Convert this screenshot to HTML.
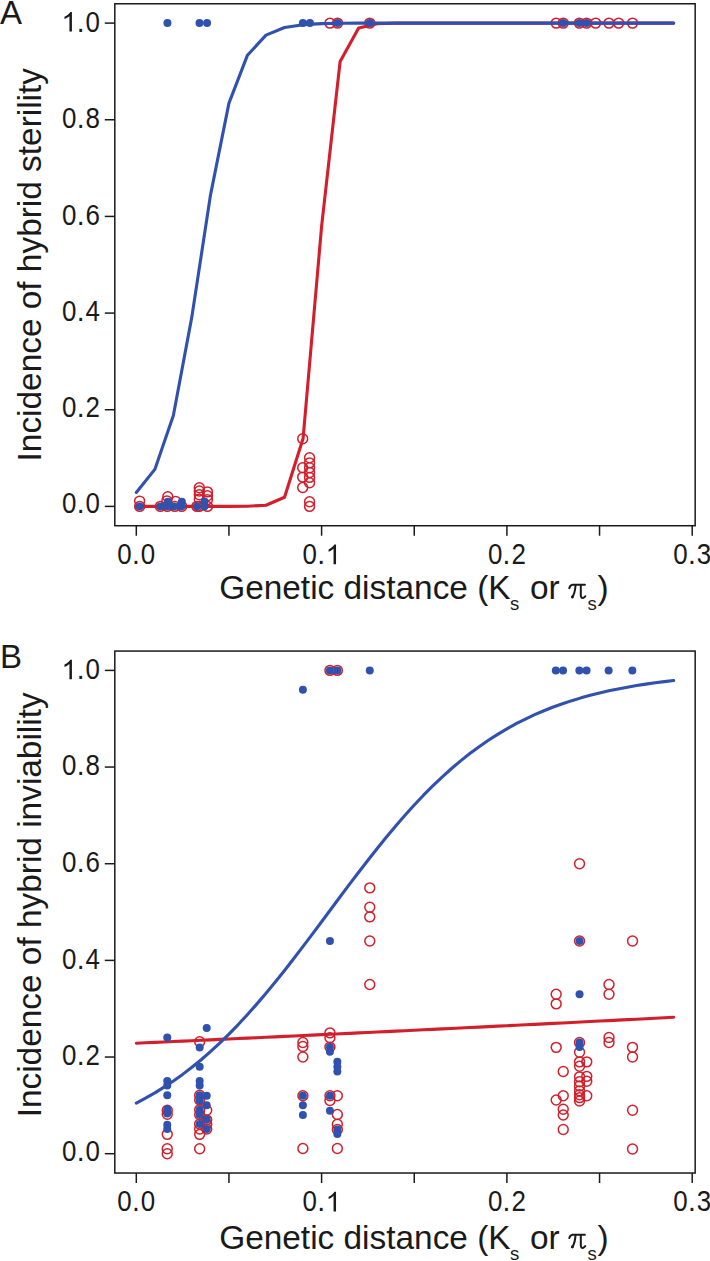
<!DOCTYPE html>
<html><head><meta charset="utf-8"><style>
html,body{margin:0;padding:0;background:#fff;}
svg{display:block;}
text{font-family:"Liberation Sans",sans-serif;fill:#1a1a1a;}
.tl{font-size:28.2px;}
.tt{font-size:33.4px;}
.pl{font-size:33px;}
.sub{font-size:18.5px;}
.pi{font-family:"Liberation Serif",serif;font-style:italic;font-size:36.5px;}
</style></head><body>
<svg width="710" height="1261" viewBox="0 0 710 1261">
<rect width="710" height="1261" fill="#fff"/>
<rect x="114.81" y="3.77" width="580.36" height="521.96" fill="none" stroke="#1a1a1a" stroke-width="1.5"/>
<line x1="104.81" y1="506.40" x2="114.81" y2="506.40" stroke="#1a1a1a" stroke-width="1.5"/>
<text transform="translate(69.25,512.80) scale(0.92,1.07)" class="tl" text-anchor="middle">0</text>
<text transform="translate(80.61,512.80) scale(1.0,1.07)" class="tl" text-anchor="middle">.</text>
<text transform="translate(92.77,512.80) scale(0.92,1.07)" class="tl" text-anchor="middle">0</text>
<line x1="104.81" y1="409.74" x2="114.81" y2="409.74" stroke="#1a1a1a" stroke-width="1.5"/>
<text transform="translate(69.25,417.14) scale(0.92,1.07)" class="tl" text-anchor="middle">0</text>
<text transform="translate(80.61,417.14) scale(1.0,1.07)" class="tl" text-anchor="middle">.</text>
<text transform="translate(92.77,417.14) scale(0.92,1.07)" class="tl" text-anchor="middle">2</text>
<line x1="104.81" y1="313.08" x2="114.81" y2="313.08" stroke="#1a1a1a" stroke-width="1.5"/>
<text transform="translate(69.25,321.48) scale(0.92,1.07)" class="tl" text-anchor="middle">0</text>
<text transform="translate(80.61,321.48) scale(1.0,1.07)" class="tl" text-anchor="middle">.</text>
<text transform="translate(92.77,321.48) scale(0.92,1.07)" class="tl" text-anchor="middle">4</text>
<line x1="104.81" y1="216.42" x2="114.81" y2="216.42" stroke="#1a1a1a" stroke-width="1.5"/>
<text transform="translate(69.25,224.82) scale(0.92,1.07)" class="tl" text-anchor="middle">0</text>
<text transform="translate(80.61,224.82) scale(1.0,1.07)" class="tl" text-anchor="middle">.</text>
<text transform="translate(92.77,224.82) scale(0.92,1.07)" class="tl" text-anchor="middle">6</text>
<line x1="104.81" y1="119.76" x2="114.81" y2="119.76" stroke="#1a1a1a" stroke-width="1.5"/>
<text transform="translate(69.25,128.16) scale(0.92,1.07)" class="tl" text-anchor="middle">0</text>
<text transform="translate(80.61,128.16) scale(1.0,1.07)" class="tl" text-anchor="middle">.</text>
<text transform="translate(92.77,128.16) scale(0.92,1.07)" class="tl" text-anchor="middle">8</text>
<line x1="104.81" y1="23.10" x2="114.81" y2="23.10" stroke="#1a1a1a" stroke-width="1.5"/>
<path transform="translate(61.41,31.50) scale(0.013770,-0.013356)" d="M763,0L583,0L583,1147Q518,1085 412.5,1023Q307,961 223,930L223,1104Q374,1175 485,1273.5Q596,1372 648,1466L763,1466Z" fill="#1a1a1a"/>
<text transform="translate(80.61,31.50) scale(1.0,1.07)" class="tl" text-anchor="middle">.</text>
<text transform="translate(92.77,31.50) scale(0.92,1.07)" class="tl" text-anchor="middle">0</text>
<line x1="136.30" y1="525.73" x2="136.30" y2="535.73" stroke="#1a1a1a" stroke-width="1.5"/>
<text transform="translate(124.54,564.13) scale(0.92,1.07)" class="tl" text-anchor="middle">0</text>
<text transform="translate(135.90,564.13) scale(1.0,1.07)" class="tl" text-anchor="middle">.</text>
<text transform="translate(148.06,564.13) scale(0.92,1.07)" class="tl" text-anchor="middle">0</text>
<line x1="228.95" y1="525.73" x2="228.95" y2="535.73" stroke="#1a1a1a" stroke-width="1.5"/>
<line x1="321.60" y1="525.73" x2="321.60" y2="535.73" stroke="#1a1a1a" stroke-width="1.5"/>
<text transform="translate(309.84,564.13) scale(0.92,1.07)" class="tl" text-anchor="middle">0</text>
<text transform="translate(321.20,564.13) scale(1.0,1.07)" class="tl" text-anchor="middle">.</text>
<path transform="translate(325.52,564.13) scale(0.013770,-0.013356)" d="M763,0L583,0L583,1147Q518,1085 412.5,1023Q307,961 223,930L223,1104Q374,1175 485,1273.5Q596,1372 648,1466L763,1466Z" fill="#1a1a1a"/>
<line x1="414.25" y1="525.73" x2="414.25" y2="535.73" stroke="#1a1a1a" stroke-width="1.5"/>
<line x1="506.90" y1="525.73" x2="506.90" y2="535.73" stroke="#1a1a1a" stroke-width="1.5"/>
<text transform="translate(495.14,564.13) scale(0.92,1.07)" class="tl" text-anchor="middle">0</text>
<text transform="translate(506.50,564.13) scale(1.0,1.07)" class="tl" text-anchor="middle">.</text>
<text transform="translate(518.66,564.13) scale(0.92,1.07)" class="tl" text-anchor="middle">2</text>
<line x1="599.55" y1="525.73" x2="599.55" y2="535.73" stroke="#1a1a1a" stroke-width="1.5"/>
<line x1="692.20" y1="525.73" x2="692.20" y2="535.73" stroke="#1a1a1a" stroke-width="1.5"/>
<text transform="translate(680.44,564.13) scale(0.92,1.07)" class="tl" text-anchor="middle">0</text>
<text transform="translate(691.80,564.13) scale(1.0,1.07)" class="tl" text-anchor="middle">.</text>
<text transform="translate(703.96,564.13) scale(0.92,1.07)" class="tl" text-anchor="middle">3</text>
<text x="219.20" y="598.93" class="tt">Genetic distance (K<tspan class="sub" dy="11.2" dx="-0.5">s</tspan><tspan dy="-11.2" dx="1.4"> or </tspan><tspan class="pi" dx="0.3" fill="none">&#960;</tspan><tspan class="sub" dy="11.2" dx="0">s</tspan><tspan dy="-11.2" dx="0.6">)</tspan></text>
<g transform="translate(0,0.00)" fill="none" stroke="#1a1a1a" stroke-width="2.0" stroke-linecap="round"><path d="M569.3,588.2 Q570,585.1 572.6,584.8 L584.9,584.8"/><path d="M575.5,585.2 Q575.2,592.5 572.3,597.2"/><path d="M580.8,585.2 L580.8,595.3 Q581,598.5 583.3,597.9 Q584.5,597.5 585.3,596.2"/></g>
<circle cx="572.4" cy="597.00" r="1.45" fill="#1a1a1a"/>
<text transform="translate(40.5,264.75) rotate(-90)" class="tt" text-anchor="middle">Incidence of hybrid sterility</text>
<circle cx="329.94" cy="23.10" r="4.95" fill="none" stroke="#d21f2b" stroke-width="1.5"/>
<circle cx="337.54" cy="23.10" r="4.95" fill="none" stroke="#d21f2b" stroke-width="1.5"/>
<circle cx="369.78" cy="23.10" r="4.95" fill="none" stroke="#d21f2b" stroke-width="1.5"/>
<circle cx="556.19" cy="23.10" r="4.95" fill="none" stroke="#d21f2b" stroke-width="1.5"/>
<circle cx="563.23" cy="23.10" r="4.95" fill="none" stroke="#d21f2b" stroke-width="1.5"/>
<circle cx="579.35" cy="23.10" r="4.95" fill="none" stroke="#d21f2b" stroke-width="1.5"/>
<circle cx="586.58" cy="23.10" r="4.95" fill="none" stroke="#d21f2b" stroke-width="1.5"/>
<circle cx="595.66" cy="23.10" r="4.95" fill="none" stroke="#d21f2b" stroke-width="1.5"/>
<circle cx="609.00" cy="23.10" r="4.95" fill="none" stroke="#d21f2b" stroke-width="1.5"/>
<circle cx="618.64" cy="23.10" r="4.95" fill="none" stroke="#d21f2b" stroke-width="1.5"/>
<circle cx="632.53" cy="23.10" r="4.95" fill="none" stroke="#d21f2b" stroke-width="1.5"/>
<circle cx="139.64" cy="506.40" r="4.95" fill="none" stroke="#d21f2b" stroke-width="1.5"/>
<circle cx="139.64" cy="501.08" r="4.95" fill="none" stroke="#d21f2b" stroke-width="1.5"/>
<circle cx="160.39" cy="506.40" r="4.95" fill="none" stroke="#d21f2b" stroke-width="1.5"/>
<circle cx="167.25" cy="506.40" r="4.95" fill="none" stroke="#d21f2b" stroke-width="1.5"/>
<circle cx="167.80" cy="496.73" r="4.95" fill="none" stroke="#d21f2b" stroke-width="1.5"/>
<circle cx="166.87" cy="500.84" r="4.95" fill="none" stroke="#d21f2b" stroke-width="1.5"/>
<circle cx="174.84" cy="506.40" r="4.95" fill="none" stroke="#d21f2b" stroke-width="1.5"/>
<circle cx="175.58" cy="501.33" r="4.95" fill="none" stroke="#d21f2b" stroke-width="1.5"/>
<circle cx="181.70" cy="506.40" r="4.95" fill="none" stroke="#d21f2b" stroke-width="1.5"/>
<circle cx="196.89" cy="506.40" r="4.95" fill="none" stroke="#d21f2b" stroke-width="1.5"/>
<circle cx="199.30" cy="506.40" r="4.95" fill="none" stroke="#d21f2b" stroke-width="1.5"/>
<circle cx="199.30" cy="487.79" r="4.95" fill="none" stroke="#d21f2b" stroke-width="1.5"/>
<circle cx="199.30" cy="490.93" r="4.95" fill="none" stroke="#d21f2b" stroke-width="1.5"/>
<circle cx="199.30" cy="494.80" r="4.95" fill="none" stroke="#d21f2b" stroke-width="1.5"/>
<circle cx="199.30" cy="499.15" r="4.95" fill="none" stroke="#d21f2b" stroke-width="1.5"/>
<circle cx="207.46" cy="506.40" r="4.95" fill="none" stroke="#d21f2b" stroke-width="1.5"/>
<circle cx="207.46" cy="491.90" r="4.95" fill="none" stroke="#d21f2b" stroke-width="1.5"/>
<circle cx="207.46" cy="495.77" r="4.95" fill="none" stroke="#d21f2b" stroke-width="1.5"/>
<circle cx="207.46" cy="499.63" r="4.95" fill="none" stroke="#d21f2b" stroke-width="1.5"/>
<circle cx="302.70" cy="438.74" r="4.95" fill="none" stroke="#d21f2b" stroke-width="1.5"/>
<circle cx="302.70" cy="467.74" r="4.95" fill="none" stroke="#d21f2b" stroke-width="1.5"/>
<circle cx="302.70" cy="477.11" r="4.95" fill="none" stroke="#d21f2b" stroke-width="1.5"/>
<circle cx="302.70" cy="487.55" r="4.95" fill="none" stroke="#d21f2b" stroke-width="1.5"/>
<circle cx="309.56" cy="457.73" r="4.95" fill="none" stroke="#d21f2b" stroke-width="1.5"/>
<circle cx="309.56" cy="462.90" r="4.95" fill="none" stroke="#d21f2b" stroke-width="1.5"/>
<circle cx="309.56" cy="467.74" r="4.95" fill="none" stroke="#d21f2b" stroke-width="1.5"/>
<circle cx="309.56" cy="472.57" r="4.95" fill="none" stroke="#d21f2b" stroke-width="1.5"/>
<circle cx="309.56" cy="477.40" r="4.95" fill="none" stroke="#d21f2b" stroke-width="1.5"/>
<circle cx="309.56" cy="482.72" r="4.95" fill="none" stroke="#d21f2b" stroke-width="1.5"/>
<circle cx="309.56" cy="501.71" r="4.95" fill="none" stroke="#d21f2b" stroke-width="1.5"/>
<circle cx="309.56" cy="506.40" r="4.95" fill="none" stroke="#d21f2b" stroke-width="1.5"/>
<polyline points="136.30,506.40 154.83,506.40 173.36,506.40 191.89,506.40 210.42,506.40 228.95,506.38 247.48,506.27 266.01,505.29 284.54,497.22 303.07,438.55 321.60,226.41 340.13,61.42 358.66,27.99 377.19,23.68 395.72,23.17 414.25,23.11 432.78,23.10 451.31,23.10 469.84,23.10 488.37,23.10 506.90,23.10 525.43,23.10 543.96,23.10 562.49,23.10 581.02,23.10 599.55,23.10 618.08,23.10 636.61,23.10 655.14,23.10 673.67,23.10" fill="none" stroke="#d21f2b" stroke-width="3.1" stroke-linejoin="round" stroke-linecap="round"/>
<circle cx="167.43" cy="23.10" r="4.0" fill="#3052ae"/>
<circle cx="199.49" cy="23.10" r="4.0" fill="#3052ae"/>
<circle cx="207.08" cy="23.10" r="4.0" fill="#3052ae"/>
<circle cx="302.88" cy="23.10" r="4.0" fill="#3052ae"/>
<circle cx="309.93" cy="23.10" r="4.0" fill="#3052ae"/>
<circle cx="337.54" cy="23.10" r="4.0" fill="#3052ae"/>
<circle cx="369.78" cy="23.10" r="4.0" fill="#3052ae"/>
<circle cx="563.23" cy="23.10" r="4.0" fill="#3052ae"/>
<circle cx="579.35" cy="23.10" r="4.0" fill="#3052ae"/>
<circle cx="586.58" cy="23.10" r="4.0" fill="#3052ae"/>
<circle cx="139.64" cy="506.40" r="4.0" fill="#3052ae"/>
<circle cx="160.39" cy="506.40" r="4.0" fill="#3052ae"/>
<circle cx="167.25" cy="506.40" r="4.0" fill="#3052ae"/>
<circle cx="167.80" cy="501.81" r="4.0" fill="#3052ae"/>
<circle cx="174.10" cy="506.40" r="4.0" fill="#3052ae"/>
<circle cx="181.33" cy="506.40" r="4.0" fill="#3052ae"/>
<circle cx="181.88" cy="501.81" r="4.0" fill="#3052ae"/>
<circle cx="196.89" cy="506.40" r="4.0" fill="#3052ae"/>
<circle cx="204.49" cy="501.52" r="4.0" fill="#3052ae"/>
<circle cx="204.49" cy="506.40" r="4.0" fill="#3052ae"/>
<polyline points="136.30,492.45 154.83,469.38 173.36,415.52 191.89,316.63 210.42,195.42 228.95,103.14 247.48,55.18 266.01,35.10 284.54,27.47 303.07,24.67 321.60,23.67 340.13,23.30 358.66,23.17 377.19,23.13 395.72,23.11 414.25,23.10 432.78,23.10 451.31,23.10 469.84,23.10 488.37,23.10 506.90,23.10 525.43,23.10 543.96,23.10 562.49,23.10 581.02,23.10 599.55,23.10 618.08,23.10 636.61,23.10 655.14,23.10 673.67,23.10" fill="none" stroke="#3052ae" stroke-width="3.1" stroke-linejoin="round" stroke-linecap="round"/>
<text x="0" y="23.60" class="pl">A</text>
<rect x="114.81" y="651.07" width="580.36" height="521.96" fill="none" stroke="#1a1a1a" stroke-width="1.5"/>
<line x1="104.81" y1="1153.70" x2="114.81" y2="1153.70" stroke="#1a1a1a" stroke-width="1.5"/>
<text transform="translate(69.25,1160.60) scale(0.92,1.07)" class="tl" text-anchor="middle">0</text>
<text transform="translate(80.61,1160.60) scale(1.0,1.07)" class="tl" text-anchor="middle">.</text>
<text transform="translate(92.77,1160.60) scale(0.92,1.07)" class="tl" text-anchor="middle">0</text>
<line x1="104.81" y1="1057.04" x2="114.81" y2="1057.04" stroke="#1a1a1a" stroke-width="1.5"/>
<text transform="translate(69.25,1064.94) scale(0.92,1.07)" class="tl" text-anchor="middle">0</text>
<text transform="translate(80.61,1064.94) scale(1.0,1.07)" class="tl" text-anchor="middle">.</text>
<text transform="translate(92.77,1064.94) scale(0.92,1.07)" class="tl" text-anchor="middle">2</text>
<line x1="104.81" y1="960.38" x2="114.81" y2="960.38" stroke="#1a1a1a" stroke-width="1.5"/>
<text transform="translate(69.25,968.78) scale(0.92,1.07)" class="tl" text-anchor="middle">0</text>
<text transform="translate(80.61,968.78) scale(1.0,1.07)" class="tl" text-anchor="middle">.</text>
<text transform="translate(92.77,968.78) scale(0.92,1.07)" class="tl" text-anchor="middle">4</text>
<line x1="104.81" y1="863.72" x2="114.81" y2="863.72" stroke="#1a1a1a" stroke-width="1.5"/>
<text transform="translate(69.25,872.12) scale(0.92,1.07)" class="tl" text-anchor="middle">0</text>
<text transform="translate(80.61,872.12) scale(1.0,1.07)" class="tl" text-anchor="middle">.</text>
<text transform="translate(92.77,872.12) scale(0.92,1.07)" class="tl" text-anchor="middle">6</text>
<line x1="104.81" y1="767.06" x2="114.81" y2="767.06" stroke="#1a1a1a" stroke-width="1.5"/>
<text transform="translate(69.25,775.46) scale(0.92,1.07)" class="tl" text-anchor="middle">0</text>
<text transform="translate(80.61,775.46) scale(1.0,1.07)" class="tl" text-anchor="middle">.</text>
<text transform="translate(92.77,775.46) scale(0.92,1.07)" class="tl" text-anchor="middle">8</text>
<line x1="104.81" y1="670.40" x2="114.81" y2="670.40" stroke="#1a1a1a" stroke-width="1.5"/>
<path transform="translate(61.41,679.30) scale(0.013770,-0.013356)" d="M763,0L583,0L583,1147Q518,1085 412.5,1023Q307,961 223,930L223,1104Q374,1175 485,1273.5Q596,1372 648,1466L763,1466Z" fill="#1a1a1a"/>
<text transform="translate(80.61,679.30) scale(1.0,1.07)" class="tl" text-anchor="middle">.</text>
<text transform="translate(92.77,679.30) scale(0.92,1.07)" class="tl" text-anchor="middle">0</text>
<line x1="136.30" y1="1173.03" x2="136.30" y2="1183.03" stroke="#1a1a1a" stroke-width="1.5"/>
<text transform="translate(124.54,1211.43) scale(0.92,1.07)" class="tl" text-anchor="middle">0</text>
<text transform="translate(135.90,1211.43) scale(1.0,1.07)" class="tl" text-anchor="middle">.</text>
<text transform="translate(148.06,1211.43) scale(0.92,1.07)" class="tl" text-anchor="middle">0</text>
<line x1="228.95" y1="1173.03" x2="228.95" y2="1183.03" stroke="#1a1a1a" stroke-width="1.5"/>
<line x1="321.60" y1="1173.03" x2="321.60" y2="1183.03" stroke="#1a1a1a" stroke-width="1.5"/>
<text transform="translate(309.84,1211.43) scale(0.92,1.07)" class="tl" text-anchor="middle">0</text>
<text transform="translate(321.20,1211.43) scale(1.0,1.07)" class="tl" text-anchor="middle">.</text>
<path transform="translate(325.52,1211.43) scale(0.013770,-0.013356)" d="M763,0L583,0L583,1147Q518,1085 412.5,1023Q307,961 223,930L223,1104Q374,1175 485,1273.5Q596,1372 648,1466L763,1466Z" fill="#1a1a1a"/>
<line x1="414.25" y1="1173.03" x2="414.25" y2="1183.03" stroke="#1a1a1a" stroke-width="1.5"/>
<line x1="506.90" y1="1173.03" x2="506.90" y2="1183.03" stroke="#1a1a1a" stroke-width="1.5"/>
<text transform="translate(495.14,1211.43) scale(0.92,1.07)" class="tl" text-anchor="middle">0</text>
<text transform="translate(506.50,1211.43) scale(1.0,1.07)" class="tl" text-anchor="middle">.</text>
<text transform="translate(518.66,1211.43) scale(0.92,1.07)" class="tl" text-anchor="middle">2</text>
<line x1="599.55" y1="1173.03" x2="599.55" y2="1183.03" stroke="#1a1a1a" stroke-width="1.5"/>
<line x1="692.20" y1="1173.03" x2="692.20" y2="1183.03" stroke="#1a1a1a" stroke-width="1.5"/>
<text transform="translate(680.44,1211.43) scale(0.92,1.07)" class="tl" text-anchor="middle">0</text>
<text transform="translate(691.80,1211.43) scale(1.0,1.07)" class="tl" text-anchor="middle">.</text>
<text transform="translate(703.96,1211.43) scale(0.92,1.07)" class="tl" text-anchor="middle">3</text>
<text x="219.20" y="1248.83" class="tt">Genetic distance (K<tspan class="sub" dy="11.2" dx="-0.5">s</tspan><tspan dy="-11.2" dx="1.4"> or </tspan><tspan class="pi" dx="0.3" fill="none">&#960;</tspan><tspan class="sub" dy="11.2" dx="0">s</tspan><tspan dy="-11.2" dx="0.6">)</tspan></text>
<g transform="translate(0,649.90)" fill="none" stroke="#1a1a1a" stroke-width="2.0" stroke-linecap="round"><path d="M569.3,588.2 Q570,585.1 572.6,584.8 L584.9,584.8"/><path d="M575.5,585.2 Q575.2,592.5 572.3,597.2"/><path d="M580.8,585.2 L580.8,595.3 Q581,598.5 583.3,597.9 Q584.5,597.5 585.3,596.2"/></g>
<circle cx="572.4" cy="1246.90" r="1.45" fill="#1a1a1a"/>
<text transform="translate(40.5,904.85) rotate(-90)" class="tt" text-anchor="middle">Incidence of hybrid inviability</text>
<circle cx="167.25" cy="1110.20" r="4.95" fill="none" stroke="#d21f2b" stroke-width="1.5"/>
<circle cx="167.25" cy="1114.31" r="4.95" fill="none" stroke="#d21f2b" stroke-width="1.5"/>
<circle cx="167.25" cy="1134.37" r="4.95" fill="none" stroke="#d21f2b" stroke-width="1.5"/>
<circle cx="167.25" cy="1148.72" r="4.95" fill="none" stroke="#d21f2b" stroke-width="1.5"/>
<circle cx="167.25" cy="1153.70" r="4.95" fill="none" stroke="#d21f2b" stroke-width="1.5"/>
<circle cx="199.67" cy="1041.82" r="4.95" fill="none" stroke="#d21f2b" stroke-width="1.5"/>
<circle cx="199.67" cy="1095.22" r="4.95" fill="none" stroke="#d21f2b" stroke-width="1.5"/>
<circle cx="199.67" cy="1100.05" r="4.95" fill="none" stroke="#d21f2b" stroke-width="1.5"/>
<circle cx="199.67" cy="1109.72" r="4.95" fill="none" stroke="#d21f2b" stroke-width="1.5"/>
<circle cx="199.67" cy="1114.79" r="4.95" fill="none" stroke="#d21f2b" stroke-width="1.5"/>
<circle cx="199.67" cy="1124.03" r="4.95" fill="none" stroke="#d21f2b" stroke-width="1.5"/>
<circle cx="199.67" cy="1129.05" r="4.95" fill="none" stroke="#d21f2b" stroke-width="1.5"/>
<circle cx="199.67" cy="1134.37" r="4.95" fill="none" stroke="#d21f2b" stroke-width="1.5"/>
<circle cx="199.67" cy="1148.72" r="4.95" fill="none" stroke="#d21f2b" stroke-width="1.5"/>
<circle cx="206.71" cy="1110.20" r="4.95" fill="none" stroke="#d21f2b" stroke-width="1.5"/>
<circle cx="206.71" cy="1119.87" r="4.95" fill="none" stroke="#d21f2b" stroke-width="1.5"/>
<circle cx="206.71" cy="1124.22" r="4.95" fill="none" stroke="#d21f2b" stroke-width="1.5"/>
<circle cx="206.71" cy="1129.05" r="4.95" fill="none" stroke="#d21f2b" stroke-width="1.5"/>
<circle cx="302.88" cy="1042.54" r="4.95" fill="none" stroke="#d21f2b" stroke-width="1.5"/>
<circle cx="302.88" cy="1046.41" r="4.95" fill="none" stroke="#d21f2b" stroke-width="1.5"/>
<circle cx="302.88" cy="1057.04" r="4.95" fill="none" stroke="#d21f2b" stroke-width="1.5"/>
<circle cx="302.88" cy="1095.70" r="4.95" fill="none" stroke="#d21f2b" stroke-width="1.5"/>
<circle cx="302.88" cy="1148.48" r="4.95" fill="none" stroke="#d21f2b" stroke-width="1.5"/>
<circle cx="329.94" cy="1032.88" r="4.95" fill="none" stroke="#d21f2b" stroke-width="1.5"/>
<circle cx="329.94" cy="1037.71" r="4.95" fill="none" stroke="#d21f2b" stroke-width="1.5"/>
<circle cx="329.94" cy="1047.08" r="4.95" fill="none" stroke="#d21f2b" stroke-width="1.5"/>
<circle cx="329.94" cy="1095.70" r="4.95" fill="none" stroke="#d21f2b" stroke-width="1.5"/>
<circle cx="329.94" cy="1100.54" r="4.95" fill="none" stroke="#d21f2b" stroke-width="1.5"/>
<circle cx="329.94" cy="670.40" r="4.95" fill="none" stroke="#d21f2b" stroke-width="1.5"/>
<circle cx="337.35" cy="1095.70" r="4.95" fill="none" stroke="#d21f2b" stroke-width="1.5"/>
<circle cx="337.35" cy="1114.55" r="4.95" fill="none" stroke="#d21f2b" stroke-width="1.5"/>
<circle cx="337.35" cy="1124.22" r="4.95" fill="none" stroke="#d21f2b" stroke-width="1.5"/>
<circle cx="337.35" cy="1129.53" r="4.95" fill="none" stroke="#d21f2b" stroke-width="1.5"/>
<circle cx="337.35" cy="1148.48" r="4.95" fill="none" stroke="#d21f2b" stroke-width="1.5"/>
<circle cx="337.35" cy="670.40" r="4.95" fill="none" stroke="#d21f2b" stroke-width="1.5"/>
<circle cx="369.78" cy="887.88" r="4.95" fill="none" stroke="#d21f2b" stroke-width="1.5"/>
<circle cx="369.78" cy="907.22" r="4.95" fill="none" stroke="#d21f2b" stroke-width="1.5"/>
<circle cx="369.78" cy="916.88" r="4.95" fill="none" stroke="#d21f2b" stroke-width="1.5"/>
<circle cx="369.78" cy="941.05" r="4.95" fill="none" stroke="#d21f2b" stroke-width="1.5"/>
<circle cx="369.78" cy="984.54" r="4.95" fill="none" stroke="#d21f2b" stroke-width="1.5"/>
<circle cx="556.19" cy="994.21" r="4.95" fill="none" stroke="#d21f2b" stroke-width="1.5"/>
<circle cx="556.19" cy="1003.88" r="4.95" fill="none" stroke="#d21f2b" stroke-width="1.5"/>
<circle cx="556.19" cy="1047.37" r="4.95" fill="none" stroke="#d21f2b" stroke-width="1.5"/>
<circle cx="556.19" cy="1100.05" r="4.95" fill="none" stroke="#d21f2b" stroke-width="1.5"/>
<circle cx="563.23" cy="1071.54" r="4.95" fill="none" stroke="#d21f2b" stroke-width="1.5"/>
<circle cx="563.23" cy="1095.70" r="4.95" fill="none" stroke="#d21f2b" stroke-width="1.5"/>
<circle cx="563.23" cy="1109.24" r="4.95" fill="none" stroke="#d21f2b" stroke-width="1.5"/>
<circle cx="563.23" cy="1115.04" r="4.95" fill="none" stroke="#d21f2b" stroke-width="1.5"/>
<circle cx="563.23" cy="1129.53" r="4.95" fill="none" stroke="#d21f2b" stroke-width="1.5"/>
<circle cx="579.54" cy="863.72" r="4.95" fill="none" stroke="#d21f2b" stroke-width="1.5"/>
<circle cx="579.54" cy="941.05" r="4.95" fill="none" stroke="#d21f2b" stroke-width="1.5"/>
<circle cx="579.54" cy="1042.54" r="4.95" fill="none" stroke="#d21f2b" stroke-width="1.5"/>
<circle cx="579.54" cy="1052.21" r="4.95" fill="none" stroke="#d21f2b" stroke-width="1.5"/>
<circle cx="579.54" cy="1061.87" r="4.95" fill="none" stroke="#d21f2b" stroke-width="1.5"/>
<circle cx="579.54" cy="1066.22" r="4.95" fill="none" stroke="#d21f2b" stroke-width="1.5"/>
<circle cx="579.54" cy="1076.86" r="4.95" fill="none" stroke="#d21f2b" stroke-width="1.5"/>
<circle cx="579.54" cy="1081.69" r="4.95" fill="none" stroke="#d21f2b" stroke-width="1.5"/>
<circle cx="579.54" cy="1086.04" r="4.95" fill="none" stroke="#d21f2b" stroke-width="1.5"/>
<circle cx="579.54" cy="1090.87" r="4.95" fill="none" stroke="#d21f2b" stroke-width="1.5"/>
<circle cx="579.54" cy="1094.74" r="4.95" fill="none" stroke="#d21f2b" stroke-width="1.5"/>
<circle cx="579.54" cy="1097.64" r="4.95" fill="none" stroke="#d21f2b" stroke-width="1.5"/>
<circle cx="579.54" cy="1101.02" r="4.95" fill="none" stroke="#d21f2b" stroke-width="1.5"/>
<circle cx="586.76" cy="1061.87" r="4.95" fill="none" stroke="#d21f2b" stroke-width="1.5"/>
<circle cx="586.76" cy="1076.37" r="4.95" fill="none" stroke="#d21f2b" stroke-width="1.5"/>
<circle cx="586.76" cy="1081.20" r="4.95" fill="none" stroke="#d21f2b" stroke-width="1.5"/>
<circle cx="586.76" cy="1095.70" r="4.95" fill="none" stroke="#d21f2b" stroke-width="1.5"/>
<circle cx="609.00" cy="984.54" r="4.95" fill="none" stroke="#d21f2b" stroke-width="1.5"/>
<circle cx="609.00" cy="994.21" r="4.95" fill="none" stroke="#d21f2b" stroke-width="1.5"/>
<circle cx="609.00" cy="1037.42" r="4.95" fill="none" stroke="#d21f2b" stroke-width="1.5"/>
<circle cx="609.00" cy="1042.54" r="4.95" fill="none" stroke="#d21f2b" stroke-width="1.5"/>
<circle cx="632.53" cy="941.05" r="4.95" fill="none" stroke="#d21f2b" stroke-width="1.5"/>
<circle cx="632.53" cy="1047.37" r="4.95" fill="none" stroke="#d21f2b" stroke-width="1.5"/>
<circle cx="632.53" cy="1057.04" r="4.95" fill="none" stroke="#d21f2b" stroke-width="1.5"/>
<circle cx="632.53" cy="1110.20" r="4.95" fill="none" stroke="#d21f2b" stroke-width="1.5"/>
<circle cx="632.53" cy="1149.01" r="4.95" fill="none" stroke="#d21f2b" stroke-width="1.5"/>
<polyline points="136.30,1043.20 145.56,1042.78 154.83,1042.36 164.09,1041.95 173.36,1041.53 182.62,1041.11 191.89,1040.68 201.16,1040.26 210.42,1039.84 219.69,1039.41 228.95,1038.99 238.22,1038.56 247.48,1038.13 256.75,1037.70 266.01,1037.27 275.27,1036.84 284.54,1036.41 293.81,1035.98 303.07,1035.54 312.34,1035.11 321.60,1034.67 330.87,1034.23 340.13,1033.79 349.39,1033.35 358.66,1032.91 367.93,1032.47 377.19,1032.02 386.46,1031.58 395.72,1031.13 404.99,1030.69 414.25,1030.24 423.51,1029.79 432.78,1029.34 442.05,1028.89 451.31,1028.44 460.58,1027.99 469.84,1027.53 479.11,1027.08 488.37,1026.62 497.64,1026.16 506.90,1025.71 516.16,1025.25 525.43,1024.79 534.69,1024.33 543.96,1023.86 553.23,1023.40 562.49,1022.94 571.76,1022.47 581.02,1022.00 590.29,1021.54 599.55,1021.07 608.82,1020.60 618.08,1020.13 627.35,1019.65 636.61,1019.18 645.88,1018.71 655.14,1018.23 664.40,1017.76 673.67,1017.28" fill="none" stroke="#d21f2b" stroke-width="3.1" stroke-linejoin="round" stroke-linecap="round"/>
<circle cx="167.25" cy="1037.51" r="4.0" fill="#3052ae"/>
<circle cx="167.25" cy="1080.92" r="4.0" fill="#3052ae"/>
<circle cx="167.25" cy="1085.55" r="4.0" fill="#3052ae"/>
<circle cx="167.25" cy="1095.22" r="4.0" fill="#3052ae"/>
<circle cx="167.25" cy="1109.24" r="4.0" fill="#3052ae"/>
<circle cx="167.25" cy="1113.59" r="4.0" fill="#3052ae"/>
<circle cx="167.25" cy="1124.70" r="4.0" fill="#3052ae"/>
<circle cx="167.25" cy="1129.05" r="4.0" fill="#3052ae"/>
<circle cx="199.67" cy="1047.62" r="4.0" fill="#3052ae"/>
<circle cx="199.67" cy="1066.71" r="4.0" fill="#3052ae"/>
<circle cx="199.67" cy="1080.92" r="4.0" fill="#3052ae"/>
<circle cx="199.67" cy="1085.55" r="4.0" fill="#3052ae"/>
<circle cx="199.67" cy="1095.22" r="4.0" fill="#3052ae"/>
<circle cx="199.67" cy="1100.54" r="4.0" fill="#3052ae"/>
<circle cx="199.67" cy="1109.72" r="4.0" fill="#3052ae"/>
<circle cx="199.67" cy="1114.79" r="4.0" fill="#3052ae"/>
<circle cx="199.67" cy="1124.03" r="4.0" fill="#3052ae"/>
<circle cx="206.71" cy="1028.04" r="4.0" fill="#3052ae"/>
<circle cx="206.71" cy="1095.70" r="4.0" fill="#3052ae"/>
<circle cx="206.71" cy="1105.37" r="4.0" fill="#3052ae"/>
<circle cx="206.71" cy="1119.39" r="4.0" fill="#3052ae"/>
<circle cx="206.71" cy="1129.05" r="4.0" fill="#3052ae"/>
<circle cx="302.88" cy="689.73" r="4.0" fill="#3052ae"/>
<circle cx="302.88" cy="1095.70" r="4.0" fill="#3052ae"/>
<circle cx="302.88" cy="1105.37" r="4.0" fill="#3052ae"/>
<circle cx="302.88" cy="1115.04" r="4.0" fill="#3052ae"/>
<circle cx="329.94" cy="670.40" r="4.0" fill="#3052ae"/>
<circle cx="329.94" cy="941.05" r="4.0" fill="#3052ae"/>
<circle cx="329.94" cy="1047.08" r="4.0" fill="#3052ae"/>
<circle cx="329.94" cy="1051.72" r="4.0" fill="#3052ae"/>
<circle cx="329.94" cy="1095.70" r="4.0" fill="#3052ae"/>
<circle cx="329.94" cy="1110.69" r="4.0" fill="#3052ae"/>
<circle cx="337.35" cy="670.40" r="4.0" fill="#3052ae"/>
<circle cx="337.35" cy="1061.87" r="4.0" fill="#3052ae"/>
<circle cx="337.35" cy="1066.71" r="4.0" fill="#3052ae"/>
<circle cx="337.35" cy="1071.54" r="4.0" fill="#3052ae"/>
<circle cx="337.35" cy="1129.53" r="4.0" fill="#3052ae"/>
<circle cx="337.35" cy="1134.08" r="4.0" fill="#3052ae"/>
<circle cx="369.78" cy="670.40" r="4.0" fill="#3052ae"/>
<circle cx="555.82" cy="670.40" r="4.0" fill="#3052ae"/>
<circle cx="563.05" cy="670.40" r="4.0" fill="#3052ae"/>
<circle cx="579.35" cy="670.40" r="4.0" fill="#3052ae"/>
<circle cx="586.58" cy="670.40" r="4.0" fill="#3052ae"/>
<circle cx="608.63" cy="670.40" r="4.0" fill="#3052ae"/>
<circle cx="632.35" cy="670.40" r="4.0" fill="#3052ae"/>
<circle cx="579.54" cy="941.05" r="4.0" fill="#3052ae"/>
<circle cx="579.54" cy="994.21" r="4.0" fill="#3052ae"/>
<circle cx="579.54" cy="1042.54" r="4.0" fill="#3052ae"/>
<circle cx="579.54" cy="1046.89" r="4.0" fill="#3052ae"/>
<polyline points="136.30,1103.01 145.56,1098.13 154.83,1092.85 164.09,1087.14 173.36,1081.00 182.62,1074.39 191.89,1067.31 201.16,1059.74 210.42,1051.68 219.69,1043.13 228.95,1034.08 238.22,1024.56 247.48,1014.56 256.75,1004.11 266.01,993.25 275.27,982.00 284.54,970.42 293.81,958.54 303.07,946.42 312.34,934.12 321.60,921.71 330.87,909.25 340.13,896.80 349.39,884.43 358.66,872.21 367.93,860.19 377.19,848.44 386.46,837.00 395.72,825.92 404.99,815.24 414.25,804.99 423.51,795.20 432.78,785.89 442.05,777.06 451.31,768.73 460.58,760.90 469.84,753.55 479.11,746.68 488.37,740.29 497.64,734.34 506.90,728.83 516.16,723.73 525.43,719.03 534.69,714.70 543.96,710.72 553.23,707.06 562.49,703.72 571.76,700.65 581.02,697.86 590.29,695.30 599.55,692.97 608.82,690.85 618.08,688.93 627.35,687.17 636.61,685.58 645.88,684.13 655.14,682.82 664.40,681.63 673.67,680.55" fill="none" stroke="#3052ae" stroke-width="3.1" stroke-linejoin="round" stroke-linecap="round"/>
<text x="0" y="667.80" class="pl">B</text>
</svg>
</body></html>
